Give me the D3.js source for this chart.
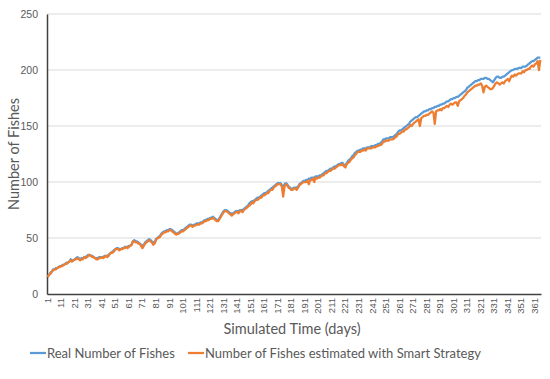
<!DOCTYPE html>
<html>
<head>
<meta charset="utf-8">
<script src="https://cdn.jsdelivr.net/npm/d3@7"></script>
<style>
  body { margin: 0; background: #fff; }
  svg { font-family: Lato, "Open Sans", sans-serif; }
</style>
</head>
<body>
<svg id="chart"></svg>
<script>
const width = 550;
const height = 379;

// values, one per simulated day (1..365)
const realFishes = [
  16,17,19,20,22,22,23,23,24,25,
  25,26,26,27,28,28,29,31,30,30,
  31,32,33,32,31,32,32,33,33,34,
  35,35,34,34,33,32,32,32,33,33,
  33,33,34,34,34,35,36,37,38,39,
  40,41,41,40,40,41,41,42,42,42,
  43,43,44,47,48,47,47,46,45,44,
  43,44,46,47,48,49,48,47,46,46,
  49,50,51,52,54,55,56,56,57,57,
  58,58,57,56,55,54,54,55,56,57,
  57,58,59,60,61,62,62,61,62,62,
  63,63,63,64,64,65,66,66,67,67,
  68,68,69,68,67,66,66,68,70,72,
  74,75,75,74,73,72,72,72,73,74,
  74,74,75,75,75,76,77,78,79,81,
  82,83,83,84,85,86,86,87,88,89,
  90,90,91,92,93,94,95,96,97,98,
  99,99,99,97,96,98,99,98,96,95,
  94,94,95,95,95,96,98,99,100,101,
  101,102,102,103,103,104,104,104,105,105,
  105,106,106,107,108,109,110,110,111,112,
  112,113,114,114,115,116,116,117,117,115,
  115,117,119,120,121,123,124,126,127,128,
  128,129,129,130,130,130,131,131,131,132,
  132,132,133,133,134,134,135,136,138,138,
  139,139,139,140,140,140,141,142,143,145,
  146,146,147,148,149,150,151,152,154,155,
  156,157,158,158,159,160,161,162,163,163,
  164,164,165,165,166,166,167,167,168,168,
  169,169,170,170,171,172,172,173,174,174,
  175,175,176,176,177,178,179,180,181,182,
  184,185,186,187,188,189,190,190,191,191,
  192,192,192,193,193,192,192,191,190,189,
  191,193,194,194,193,193,194,194,195,196,
  197,198,199,200,200,201,201,201,202,202,
  202,203,203,203,204,205,206,207,208,208,
  209,210,211,211,211
];

const smartFishes = [
  15,17,18,20,21,22,22,23,24,24,
  25,25,26,27,27,28,29,30,29,30,
  31,31,32,31,30,31,31,33,32,33,
  34,35,34,33,33,32,31,31,32,32,
  33,32,33,34,33,34,36,37,37,38,
  40,40,40,39,40,40,41,41,42,41,
  42,43,44,47,47,46,46,45,45,43,
  41,43,45,46,47,48,47,46,44,45,
  48,50,50,51,53,54,55,55,56,56,
  57,57,56,55,54,53,54,54,55,56,
  56,57,58,59,60,61,61,60,61,61,
  62,62,62,63,63,64,65,65,66,66,
  67,67,68,67,66,65,65,67,69,71,
  73,74,74,73,72,71,70,71,72,73,
  73,72,74,74,73,75,76,77,78,79,
  80,82,81,83,84,84,85,86,86,88,
  88,89,90,90,92,93,93,95,96,97,
  98,98,98,96,87,96,98,97,95,94,
  93,93,94,94,93,95,97,98,99,100,
  100,100,101,98,102,102,103,100,104,103,
  104,104,105,106,106,108,108,109,110,110,
  111,112,112,113,114,115,115,115,116,114,
  113,116,117,118,120,121,122,124,125,127,
  127,127,128,128,129,128,130,130,130,130,
  131,131,131,132,132,133,133,134,136,136,
  137,137,137,138,138,138,139,140,141,143,
  143,144,145,145,147,147,148,149,151,150,
  152,153,154,155,156,150,157,158,159,159,
  160,160,161,162,163,162,152,163,164,164,
  165,164,166,166,167,168,167,169,170,169,
  170,171,171,168,172,173,174,175,177,178,
  180,181,182,183,184,185,186,186,187,187,
  188,186,180,185,186,185,184,183,183,184,
  186,188,189,188,187,188,189,188,190,191,
  192,190,193,195,194,196,195,196,197,197,
  197,199,198,200,200,201,201,203,204,203,
  205,206,208,200,209
];

const days = d3.range(1, realFishes.length + 1);
const yTicks = [0, 50, 100, 150, 200, 250];
const xTicks = days.filter(d => (d - 1) % 10 === 0);

const seriesNames = ["Real Number of Fishes", "Number of Fishes estimated with Smart Strategy"];
const seriesColors = ["#5B9BD5", "#ED7D31"];

const svg = d3.select("#chart")
  .attr("width", width)
  .attr("height", height);

const margin = { left: 47, right: 9, top: 14, bottom: 85 };
const plotW = width - margin.left - margin.right;
const plotH = height - margin.top - margin.bottom;

const x = d3.scaleBand()
  .domain(days)
  .range([margin.left, margin.left + plotW]);

const y = d3.scaleLinear()
  .domain([0, 250])
  .range([margin.top + plotH, margin.top]);

const cx = d => x(d) + x.bandwidth() / 2;

// gridlines
svg.append("g")
  .selectAll("line")
  .data(yTicks.filter(t => t > 0))
  .join("line")
  .attr("x1", margin.left)
  .attr("x2", margin.left + plotW)
  .attr("y1", d => y(d))
  .attr("y2", d => y(d))
  .attr("stroke", "#d9d9d9")
  .attr("stroke-width", 1);

// y axis
const yAxis = svg.append("g")
  .attr("transform", `translate(${margin.left},0)`)
  .call(d3.axisLeft(y).tickValues(yTicks).tickSize(0).tickPadding(9));
yAxis.select(".domain").attr("stroke", "#404040").attr("stroke-width", 1.5);
yAxis.selectAll("text")
  .attr("fill", "#595959")
  .style("font-size", "10.5px");

// x axis
const xAxis = svg.append("g")
  .attr("transform", `translate(0,${margin.top + plotH})`)
  .call(d3.axisBottom(x).tickValues(xTicks).tickSize(0));
xAxis.select(".domain").attr("stroke", "#404040").attr("stroke-width", 1.5);
xAxis.selectAll("text")
  .attr("fill", "#595959")
  .style("font-size", "9.5px")
  .attr("transform", "rotate(-90)")
  .attr("text-anchor", "end")
  .attr("x", -4)
  .attr("y", 0)
  .attr("dy", "0.32em");

// lines
const line = d3.line()
  .x((d, i) => cx(days[i]))
  .y(d => y(d));

[realFishes, smartFishes].forEach((s, i) => {
  svg.append("path")
    .datum(s)
    .attr("fill", "none")
    .attr("stroke", seriesColors[i])
    .attr("stroke-width", 2.25)
    .attr("stroke-linejoin", "round")
    .attr("d", line);
});

// axis titles
svg.append("text")
  .attr("transform", `translate(19,${margin.top + plotH / 2}) rotate(-90)`)
  .attr("text-anchor", "middle")
  .attr("fill", "#595959")
  .style("font-size", "14.5px")
  .text("Number of Fishes");

svg.append("text")
  .attr("x", margin.left + plotW / 2 - 2)
  .attr("y", 334)
  .attr("text-anchor", "middle")
  .attr("fill", "#595959")
  .style("font-size", "14.5px")
  .text("Simulated Time (days)");

// legend
const legendX = [30, 188];
const legend = svg.append("g");
seriesNames.forEach((name, i) => {
  const g = legend.append("g").attr("transform", `translate(${legendX[i]},353)`);
  g.append("line")
    .attr("x1", 0).attr("x2", 16)
    .attr("y1", 0).attr("y2", 0)
    .attr("stroke", seriesColors[i])
    .attr("stroke-width", 2.25);
  g.append("text")
    .attr("x", 17)
    .attr("y", 0)
    .attr("dy", "0.35em")
    .attr("fill", "#595959")
    .style("font-size", "13px")
    .text(name);
});
</script>
</body>
</html>
